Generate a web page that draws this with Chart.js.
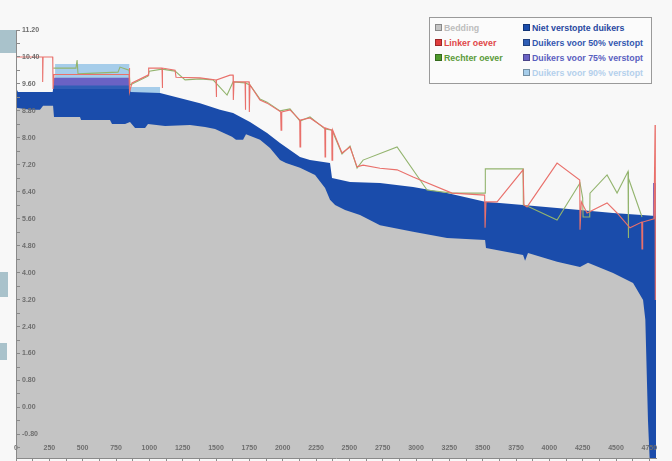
<!DOCTYPE html>
<html><head><meta charset="utf-8">
<script src="https://cdn.jsdelivr.net/npm/chart.js@4.4.0/dist/chart.umd.min.js"></script>
<style>
html,body{margin:0;padding:0;background:#f8f8f8;}
#wrap{position:relative;width:672px;height:461px;overflow:hidden;}
canvas{position:absolute;left:0;top:0;}
.deco{position:absolute;background:#a9c2cb;}
#legend{position:absolute;left:429px;top:17px;width:221px;height:65px;border:1px solid #9a9a9a;background:#fbfbfb;font:bold 8.8px "Liberation Sans",Arial,sans-serif;}
.li{position:absolute;white-space:nowrap;line-height:10px;height:10px;}
.sq{display:inline-block;width:5px;height:5px;margin-right:2px;vertical-align:0px;border:1px solid rgba(0,0,0,.3);}
</style></head>
<body><div id="wrap">
<div class="deco" style="left:0;top:30px;width:16px;height:23px"></div>
<div class="deco" style="left:0;top:272px;width:8px;height:25px"></div>
<div class="deco" style="left:0;top:343px;width:7px;height:17px"></div>
<canvas id="c" width="672" height="461"></canvas>
<div id="legend"></div>
</div>
<script>
// ---- tick labels ----
const xTickValues = [0,250,500,750,1000,1250,1500,1750,2000,2250,2500,2750,3000,3250,3500,3750,4000,4250,4500,4750];
const yTickValues = [-0.8,0,0.8,1.6,2.4,3.2,4.0,4.8,5.6,6.4,7.2,8.0,8.8,9.6,10.4,11.2];

// ---- series: [afstand (m), hoogte (m)] ----
const bedding = [[0,8.89],[105,8.83],[180,8.83],[203,8.95],[278,8.95],[285,8.62],[480,8.62],[488,8.53],[705,8.53],[720,8.41],[818,8.41],[855,8.47],[893,8.29],[968,8.29],[990,8.41],[1118,8.35],[1305,8.38],[1418,8.32],[1493,8.26],[1620,8.03],[1650,7.94],[1703,7.94],[1725,8.11],[1830,7.94],[1905,7.70],[1980,7.34],[2025,7.25],[2130,7.11],[2243,6.90],[2318,6.51],[2355,6.16],[2393,6.01],[2468,5.86],[2580,5.71],[2730,5.41],[2978,5.21],[3233,5.03],[3518,4.97],[3525,4.73],[3803,4.52],[3818,4.35],[3840,4.58],[4058,4.32],[4230,4.17],[4290,4.29],[4478,3.99],[4628,3.69],[4703,3.19],[4720,2.6],[4740,-0.4],[4752,-1.5],[4800,-1.5]];
const nietVerstopt = [[0,9.48],[15,9.36],[275,9.36],[278,9.45],[855,9.45],[860,9.36],[1080,9.33],[1380,9.03],[1530,8.83],[1628,8.74],[1755,8.47],[1883,8.14],[1980,7.85],[2130,7.43],[2205,7.34],[2355,7.25],[2370,6.81],[2505,6.69],[2730,6.66],[2978,6.54],[3233,6.36],[3518,6.10],[3803,6.01],[4058,5.92],[4230,5.86],[4478,5.77],[4800,5.68]];
const verstopt50 = [[278,9.42],[278,9.55],[853,9.55],[853,9.42]];
const verstopt75 = [[278,9.42],[278,9.78],[853,9.78],[853,9.42],[2000,null],[4776,5.68],[4778,6.66],[4800,6.66],[4800,5.68]];
const verstopt90 = [[293,9.45],[293,10.19],[850,10.19],[850,9.51],[1080,9.51],[1080,9.33]];
const linkerOever = [[0,10.40],[200,10.40],[200,9.66],[203,10.40],[275,10.40],[276,10.25],[278,9.45],[285,9.88],[848,9.88],[850,10.07],[853,9.36],[870,9.63],[990,9.86],[995,10.07],[1095,10.07],[1097,9.48],[1100,10.07],[1193,10.01],[1200,9.80],[1380,9.78],[1500,9.72],[1502,9.21],[1505,9.72],[1605,9.86],[1628,9.86],[1630,9.12],[1635,9.66],[1718,9.66],[1720,8.83],[1723,9.66],[1748,9.66],[1750,8.77],[1755,9.57],[1830,9.12],[1883,9.03],[1985,8.77],[1988,8.23],[1993,8.77],[2055,8.83],[2128,8.53],[2130,7.73],[2135,8.53],[2205,8.59],[2316,8.29],[2318,7.43],[2322,8.29],[2368,8.23],[2370,7.34],[2375,8.23],[2445,7.55],[2505,7.73],[2558,7.14],[2603,7.19],[2730,7.10],[2858,7.05],[2978,6.84],[3270,6.36],[3515,6.30],[3518,5.33],[3525,6.10],[3608,6.10],[3803,7.05],[3810,6.01],[3833,5.95],[4058,7.25],[4228,6.75],[4230,5.27],[4240,6.10],[4283,5.77],[4433,6.07],[4508,5.77],[4605,5.33],[4693,5.50],[4695,4.70],[4700,5.50],[4785,5.60],[4793,8.38],[4795,3.19]];
const rechterOever = [[280,10.07],[450,10.07],[458,10.31],[465,9.90],[765,9.95],[780,10.10],[848,10.01],[855,9.57],[870,9.60],[990,9.83],[1000,9.98],[1095,10.04],[1193,9.98],[1268,9.72],[1380,9.75],[1478,9.72],[1583,9.27],[1628,9.66],[1718,9.63],[1755,9.57],[1830,9.15],[1883,9.06],[1980,8.80],[2055,8.86],[2130,8.50],[2205,8.62],[2318,8.26],[2370,8.23],[2445,7.52],[2505,7.76],[2558,7.10],[2603,7.34],[2858,7.73],[3083,6.45],[3270,6.36],[3518,6.36],[3520,7.08],[3803,7.08],[3805,6.01],[3833,5.98],[4058,5.56],[4230,6.66],[4250,6.22],[4253,5.65],[4303,5.65],[4305,6.36],[4433,6.90],[4508,6.36],[4590,7.00],[4592,5.03],[4595,6.80],[4695,5.65]];

const xy = arr => arr.map(p => ({x: p[0], y: p[1]}));
const fillSet = (label, arr, color, legendText) => ({label, data: xy(arr), fill: 'start', backgroundColor: color, borderColor: color, borderWidth: 0, pointRadius: 0, order: 1, legendText, legendSq: color});
const lineSet = (label, arr, color, legendSq, legendText) => ({label, data: xy(arr), fill: false, borderColor: color, backgroundColor: color, borderWidth: 1.1, pointRadius: 0, order: 0, legendText, legendSq});

const datasets = [
  fillSet('Bedding', bedding, '#c4c4c4', '#bdbdbd'),
  fillSet('Niet verstopte duikers', nietVerstopt, '#1a4cab', '#2848a0'),
  fillSet('Duikers voor 50% verstopt', verstopt50, '#2f5eb6', '#3458b0'),
  fillSet('Duikers voor 75% verstopt', verstopt75, '#6a62c4', '#5a60c0'),
  fillSet('Duikers voor 90% verstopt', verstopt90, '#a6cdea', '#b4d0ec'),
  lineSet('Linker oever', linkerOever, '#e9706b', '#e03c3c', '#e04848'),
  lineSet('Rechter oever', rechterOever, '#93b46e', '#4e9a2c', '#5a9a3a')
];

const tickFont = {family: '"Liberation Sans", Arial, sans-serif', size: 7, weight: 'bold'};
const minorX = [];
xTickValues.forEach(v => { minorX.push(v); minorX.push(v + 125); });
const allY = [];
yTickValues.forEach(v => { allY.push(v); allY.push(Math.round((v - 0.4) * 100) / 100); });
allY.push(-1.2);

new Chart(document.getElementById('c'), {
  type: 'line',
  data: {datasets},
  options: {
    responsive: false, animation: false, devicePixelRatio: 1, events: [],
    layout: {padding: {left: 8, right: 16, top: 30, bottom: 0}},
    plugins: {legend: {display: false}, tooltip: {enabled: false}},
    elements: {line: {tension: 0}},
    scales: {
      x: {
        type: 'linear', min: 0, max: 4800, position: {y: -1.07},
        afterBuildTicks: s => { s.ticks = xTickValues.map(v => ({value: v})); },
        afterFit: s => { s.height = 0; s.paddingLeft = 0; s.paddingRight = 0; },
        ticks: {z: 1, padding: 0, color: '#6e6e6e', font: tickFont, maxRotation: 0, autoSkip: false, callback: v => String(v)},
        grid: {display: false, drawTicks: false},
        border: {display: false}
      },
      xb: {
        type: 'linear', min: 0, max: 4800, position: 'bottom',
        afterBuildTicks: s => { s.ticks = minorX.filter(v => v <= 4800).map(v => ({value: v})); },
        ticks: {display: false},
        grid: {drawOnChartArea: false, tickLength: 3, color: '#8a8a8a', z: 1},
        border: {color: '#8a8a8a', z: 1}
      },
      y: {
        type: 'linear', min: -1.5, max: 11.2, position: 'left',
        afterBuildTicks: s => { s.ticks = allY.filter(v => v >= -1.5 && v <= 11.2).map(v => ({value: v})); },
        afterFit: s => { s.paddingTop = 0; s.paddingBottom = 0; },
        ticks: {mirror: true, padding: 6, z: 1, color: '#6e6e6e', font: tickFont,
          callback: v => yTickValues.some(t => Math.abs(t - v) < 1e-6) ? v.toFixed(2) : ''},
        grid: {drawOnChartArea: false, tickLength: -4, color: '#8a8a8a', z: 1},
        border: {color: '#8a8a8a', z: 1}
      }
    }
  }
});

// HTML legend built from the datasets
const legendPos = {
  'Bedding': [5, 5], 'Linker oever': [5, 20], 'Rechter oever': [5, 35],
  'Niet verstopte duikers': [93, 5], 'Duikers voor 50% verstopt': [93, 20],
  'Duikers voor 75% verstopt': [93, 35], 'Duikers voor 90% verstopt': [93, 50]
};
const lg = document.getElementById('legend');
datasets.forEach(d => {
  const p = legendPos[d.label];
  const el = document.createElement('div');
  el.className = 'li';
  el.style.left = p[0] + 'px'; el.style.top = p[1] + 'px'; el.style.color = d.legendText;
  const sq = document.createElement('span');
  sq.className = 'sq';
  sq.style.background = d.legendSq;
  el.appendChild(sq);
  el.appendChild(document.createTextNode(d.label));
  lg.appendChild(el);
});
</script>
</body></html>
